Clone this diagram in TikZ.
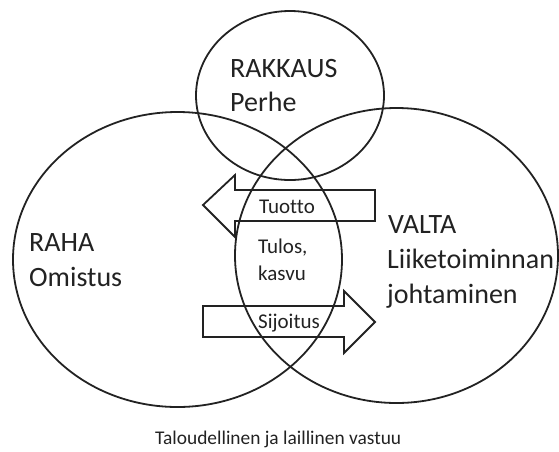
\documentclass[tikz,border=0pt]{standalone}
\usepackage{fontspec}
\setmainfont[Ligatures=NoCommon]{Carlito}
\usetikzlibrary{shapes.geometric}
\definecolor{ink}{HTML}{222222}
\definecolor{txt}{HTML}{222222}
\tikzset{
  circ/.style={ellipse, draw=ink, line width=1.8pt, inner sep=0pt},
  bigtxt/.style={anchor=base west, inner sep=0pt, text=txt, font=\fontsize{28}{34}\selectfont},
  smalltxt/.style={anchor=base west, inner sep=0pt, text=txt, font=\fontsize{21}{25}\selectfont},
  captxt/.style={anchor=base west, inner sep=0pt, text=txt, font=\fontsize{19.4}{23}\selectfont},
  arrowbox/.style={draw=ink, line width=1.8pt, line join=miter}
}
\begin{document}
\begin{tikzpicture}[x=1pt,y=-1pt]
\useasboundingbox (0,0) rectangle (559,451);
% arrows
\draw[arrowbox] (375,190) -- (235,190) -- (235,175) -- (203,205) -- (235,237) -- (235,221) -- (375,221) -- cycle;
\draw[arrowbox] (203,306) -- (344,306) -- (344,291) -- (375,322) -- (344,353) -- (344,337) -- (203,337) -- cycle;
% ellipses
\node[circ, minimum width=188pt, minimum height=169pt] (rakkausE) at (290,95.5) {};
\node[circ, minimum width=329pt, minimum height=295pt] (rahaE) at (177.5,259.5) {};
\node[circ, minimum width=323pt, minimum height=295pt] (valtaE) at (396.5,255.5) {};
% texts
\node[bigtxt] (rakkaus) at (230,77) {RAKKAUS};
\node[bigtxt] (perhe) at (230,111) {Perhe};
\node[bigtxt] (raha) at (29,251) {RAHA};
\node[bigtxt] (omistus) at (29,286) {Omistus};
\node[bigtxt] (valta) at (388,233) {VALTA};
\node[bigtxt] (liike) at (387,268) {Liiketoiminnan};
\node[bigtxt] (johta) at (387,303) {johtaminen};
\node[smalltxt] (tuotto) at (259,213) {Tuotto};
\node[smalltxt] (tulos) at (258,253) {Tulos,};
\node[smalltxt] (kasvu) at (258,280) {kasvu};
\node[smalltxt] (sijoitus) at (258,328) {Sijoitus};
\node[captxt] (vastuu) at (155,444) {Taloudellinen ja laillinen vastuu};
\end{tikzpicture}
\end{document}
